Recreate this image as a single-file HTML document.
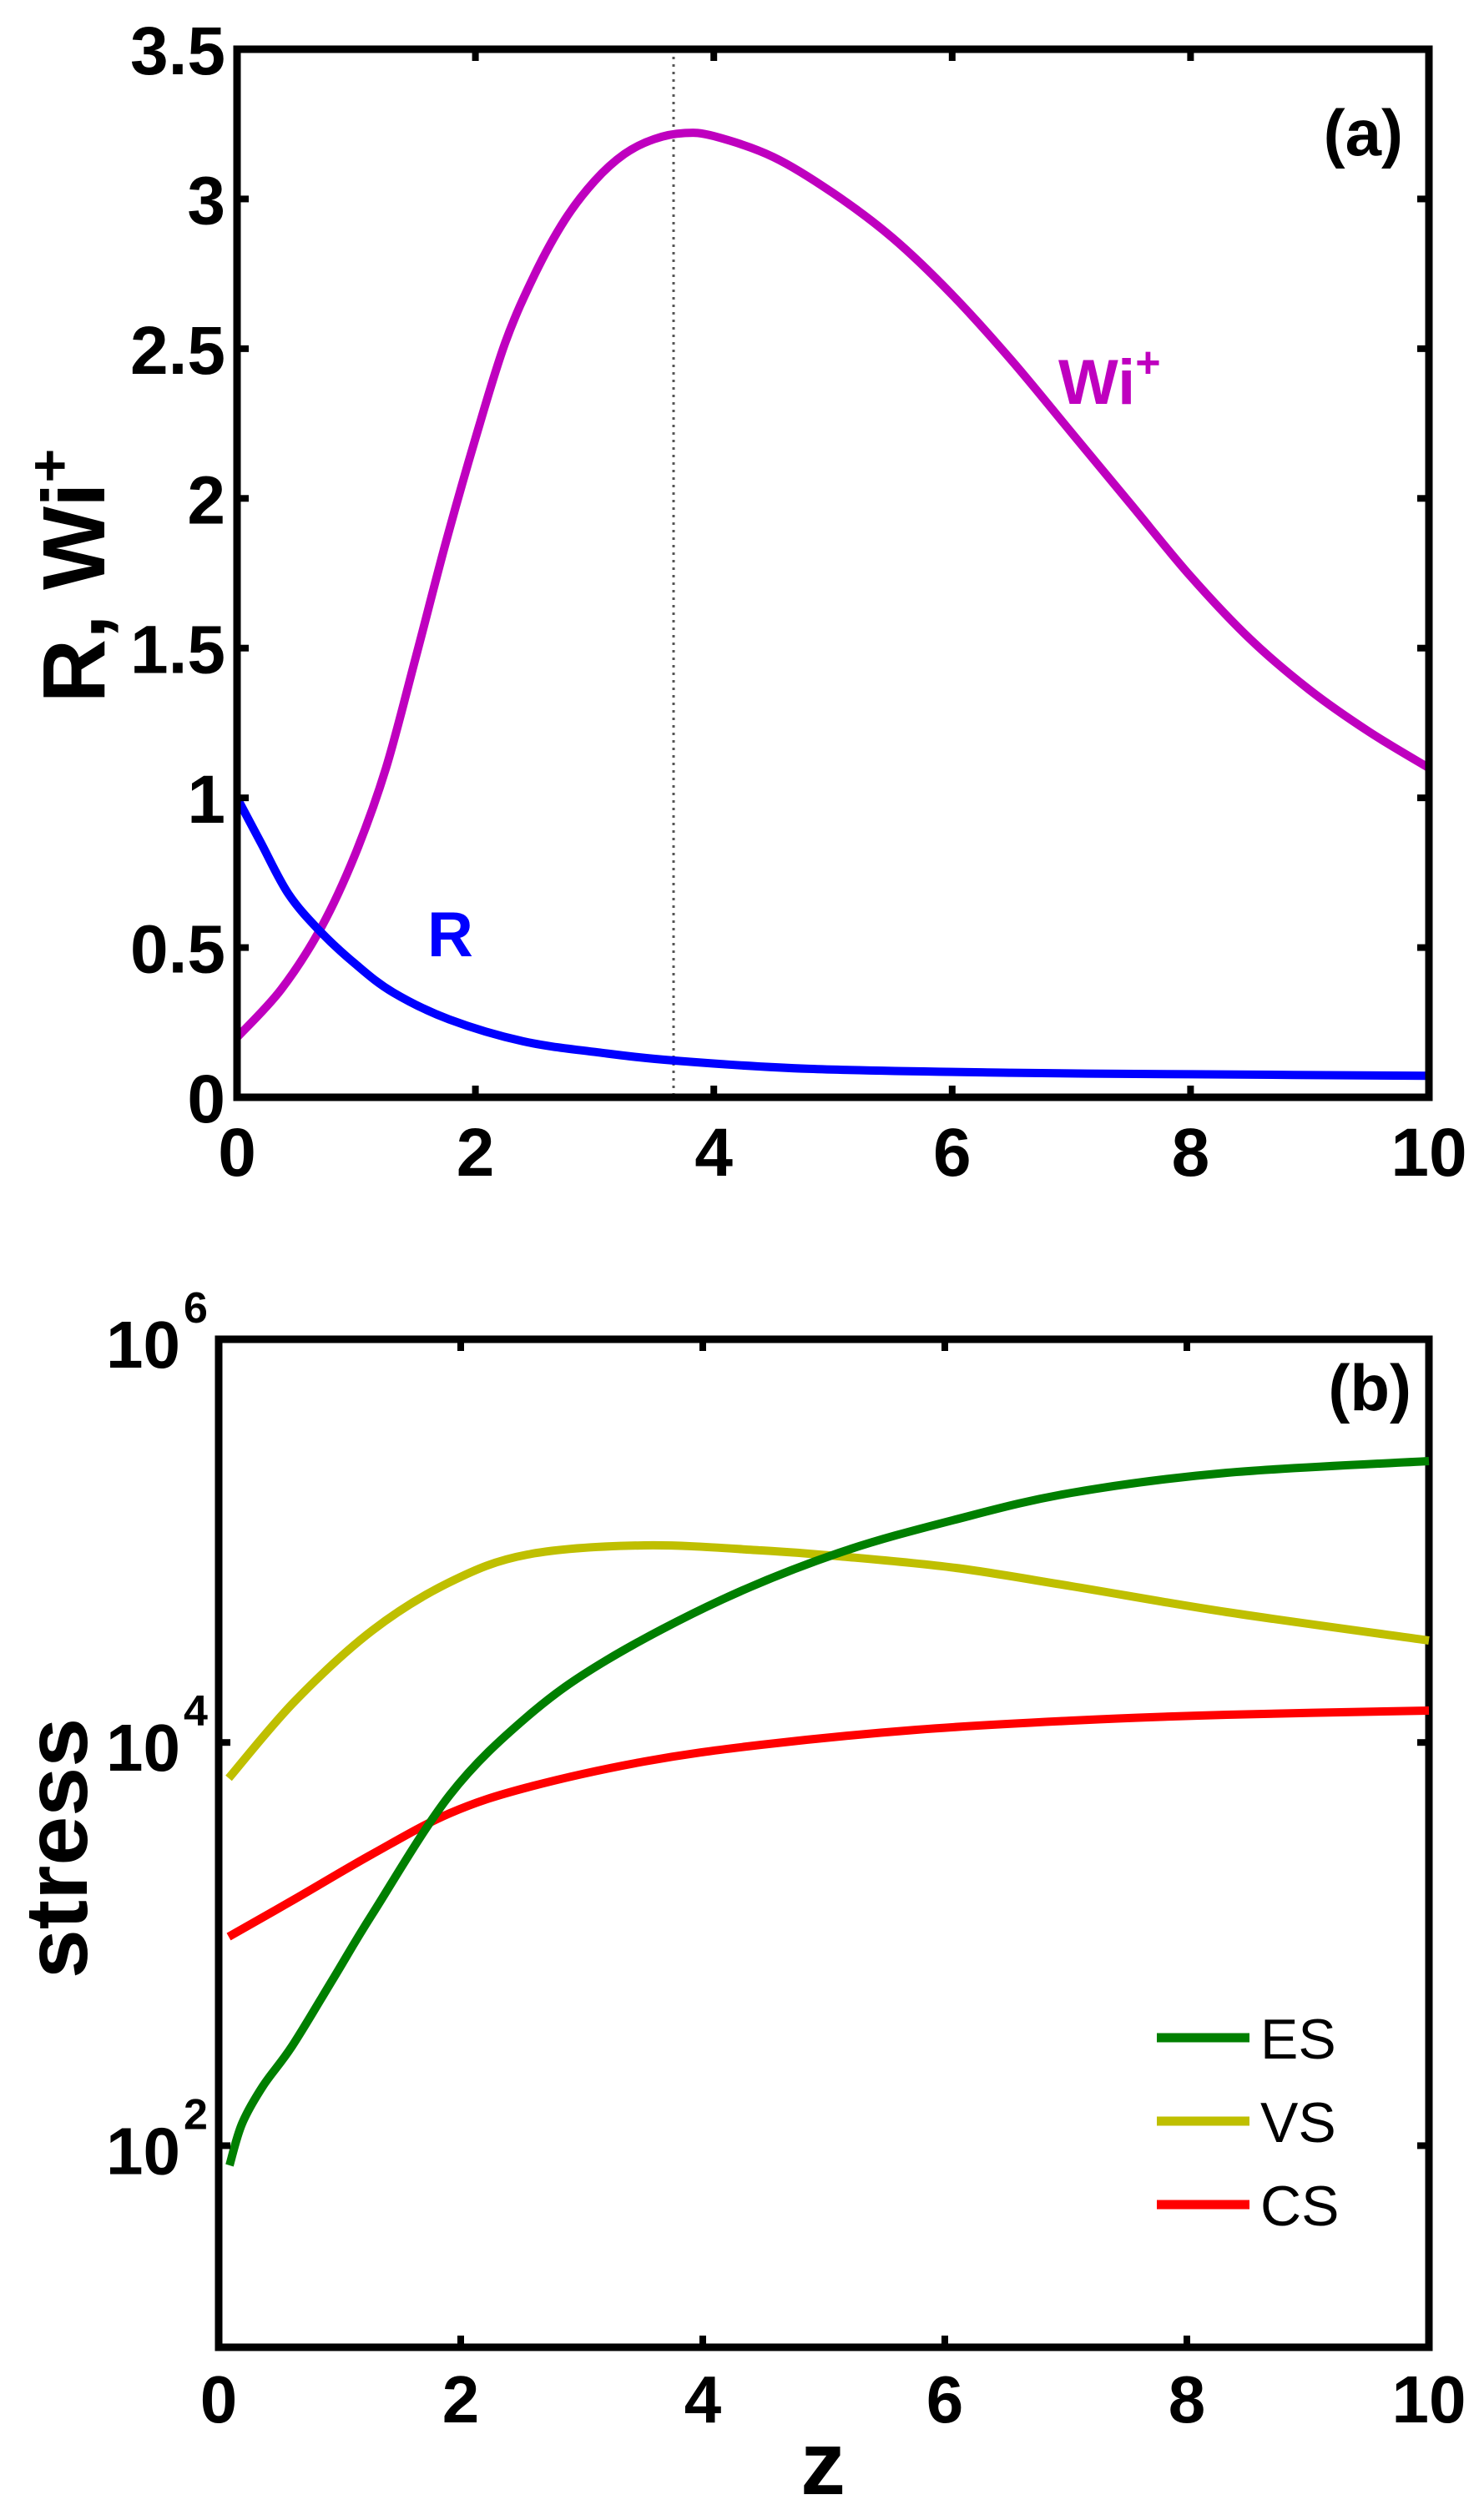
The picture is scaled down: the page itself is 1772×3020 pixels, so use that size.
<!DOCTYPE html>
<html><head><meta charset="utf-8"><style>
html,body{margin:0;padding:0;background:#fff;}
svg{display:block;}
text{font-family:"Liberation Sans",Arial,sans-serif;}
</style></head><body>
<svg id="s" xmlns="http://www.w3.org/2000/svg" width="1772" height="3020" viewBox="0 0 1772 3020">
<rect width="1772" height="3020" fill="#fff"/>
<g id="a"></g>
</svg>
<script>
const NS="http://www.w3.org/2000/svg";const g=document.getElementById('a');
function el(t,at,txt){const e=document.createElementNS(NS,t);for(const k in at)e.setAttribute(k,at[k]);if(txt!==undefined)e.textContent=txt;g.appendChild(e);return e;}
function cr(pts){let d="M"+pts[0][0]+","+pts[0][1];for(let i=0;i<pts.length-1;i++){const p0=pts[Math.max(0,i-1)],p1=pts[i],p2=pts[i+1],p3=pts[Math.min(pts.length-1,i+2)];
const c1=[p1[0]+(p2[0]-p0[0])/6,p1[1]+(p2[1]-p0[1])/6],c2=[p2[0]-(p3[0]-p1[0])/6,p2[1]-(p3[1]-p1[1])/6];
d+=" C"+c1[0].toFixed(1)+","+c1[1].toFixed(1)+" "+c2[0].toFixed(1)+","+c2[1].toFixed(1)+" "+p2[0].toFixed(1)+","+p2[1].toFixed(1);}return d;}
// Panel a
const L=284,R=1712,T=59,B=1315;
const X=z=>L+(R-L)*z/10, Y=v=>B-(B-T)*v/3.5;
const Rd=[[0,1],[0.2,0.85],[0.43,0.68],[0.69,0.557],[0.99,0.446],[1.31,0.35],[1.78,0.26],[2.4,0.187],[3.03,0.15],[3.66,0.123],[4.8,0.095],[6.5,0.082],[8,0.077],[10,0.072]];
const Wd=[[0,0.2],[0.37,0.36],[0.71,0.57],[0.99,0.81],[1.25,1.1],[1.5,1.47],[1.75,1.85],[2,2.2],[2.25,2.52],[2.5,2.75],[2.75,2.93],[3,3.06],[3.25,3.15],[3.5,3.2],[3.75,3.22],[4,3.21],[4.5,3.14],[5,3.02],[5.5,2.87],[6,2.68],[6.5,2.46],[7,2.22],[7.5,1.98],[8,1.74],[8.5,1.53],[9,1.36],[9.5,1.22],[10,1.1]];
el('line',{x1:807,y1:T,x2:807,y2:B,stroke:'#555','stroke-width':3,'stroke-dasharray':'3 6'});
el('path',{d:cr(Wd.map(p=>[X(p[0]),Y(p[1])])),fill:'none',stroke:'#bf00bf','stroke-width':10});
el('path',{d:cr(Rd.map(p=>[X(p[0]),Y(p[1])])),fill:'none',stroke:'#0000ff','stroke-width':10});
el('rect',{x:L,y:T,width:R-L,height:B-T,fill:'none',stroke:'#000','stroke-width':9});
for(let z=0;z<=10;z+=2){el('line',{x1:X(z),y1:B,x2:X(z),y2:B-14,stroke:'#000','stroke-width':8});el('line',{x1:X(z),y1:T,x2:X(z),y2:T+14,stroke:'#000','stroke-width':8});
el('text',{x:X(z),y:1409,'font-size':82,'font-weight':'bold','text-anchor':'middle'},String(z));}
for(let v=0;v<=3.5;v+=0.5){el('line',{x1:L,y1:Y(v),x2:L+14,y2:Y(v),stroke:'#000','stroke-width':8});el('line',{x1:R,y1:Y(v),x2:R-14,y2:Y(v),stroke:'#000','stroke-width':8});
el('text',{x:270,y:Y(v)+30,'font-size':82,'font-weight':'bold','text-anchor':'end'},String(v));}
el('text',{x:1681,y:186,'font-size':78,'font-weight':'bold','text-anchor':'end'},'(a)');
const w=el('text',{x:1268,y:484,'font-size':76,'font-weight':'bold',fill:'#bf00bf'});w.innerHTML='Wi<tspan dy="-32" font-size="52">+</tspan>';
el('text',{x:512,y:1146,'font-size':76,'font-weight':'bold',fill:'#0000ff'},'R');
const yl=el('text',{x:0,y:0,'font-size':106,'font-weight':'bold','text-anchor':'middle',transform:'translate(125,690) rotate(-90)'});yl.innerHTML='R, Wi<tspan dy="-42" font-size="70">+</tspan>';
// Panel b
const L2=262,R2=1712,T2=1605,B2=2813;
el('rect',{x:L2,y:T2,width:R2-L2,height:B2-T2,fill:'none',stroke:'#000','stroke-width':9});
const VS=[[274,2131],[353,2039],[446,1954],[539,1896],[632,1863],[772,1852],[912,1858],[1005,1865],[1145,1879],[1284,1901],[1470,1932],[1712,1966]];
const ES=[[275,2595],[290,2545],[315,2500],[350,2452],[400,2370],[446,2294],[539,2151],[632,2057],[726,1990],[865,1917],[1005,1861],[1145,1821],[1284,1789],[1470,1765],[1712,1751]];
const CS=[[274,2321],[353,2276],[446,2222],[539,2173],[632,2142],[772,2111],[912,2091],[1098,2073],[1284,2062],[1470,2055],[1712,2050]];
el('path',{d:cr(VS),fill:'none',stroke:'#bfbf00','stroke-width':10});
el('path',{d:cr(CS),fill:'none',stroke:'#ff0000','stroke-width':10});
el('path',{d:cr(ES),fill:'none',stroke:'#007f00','stroke-width':10});
const X2=z=>L2+(R2-L2)*z/10, Y2=e=>T2+(B2-T2)*(6-e)/5;
for(let z=0;z<=10;z+=2){el('line',{x1:X2(z),y1:B2,x2:X2(z),y2:B2-14,stroke:'#000','stroke-width':8});el('line',{x1:X2(z),y1:T2,x2:X2(z),y2:T2+14,stroke:'#000','stroke-width':8});
el('text',{x:X2(z),y:2903,'font-size':80,'font-weight':'bold','text-anchor':'middle'},String(z));}
for(const e of [2,4,6]){el('line',{x1:L2,y1:Y2(e),x2:L2+14,y2:Y2(e),stroke:'#000','stroke-width':8});el('line',{x1:R2,y1:Y2(e),x2:R2-14,y2:Y2(e),stroke:'#000','stroke-width':8});
el('text',{x:216,y:Y2(e)+34,'font-size':80,'font-weight':'bold','text-anchor':'end'},'10');
el('text',{x:220,y:Y2(e)-20,'font-size':52,'font-weight':'bold'},String(e));}
el('text',{x:1691,y:1690,'font-size':78,'font-weight':'bold','text-anchor':'end'},'(b)');
el('text',{x:0,y:0,'font-size':106,'font-weight':'bold','text-anchor':'middle',transform:'translate(104,2215) rotate(-90)'},'stress');
el('text',{x:986,y:2989,'font-size':108,'font-weight':'bold','text-anchor':'middle'},'z');
const leg=[['ES','#007f00',2442],['VS','#bfbf00',2542],['CS','#ff0000',2642]];
for(const [t,c,y] of leg){el('line',{x1:1386,y1:y,x2:1497,y2:y,stroke:c,'stroke-width':11});el('text',{x:1510,y:y+25,'font-size':68},t);}
</script>
</body></html>
